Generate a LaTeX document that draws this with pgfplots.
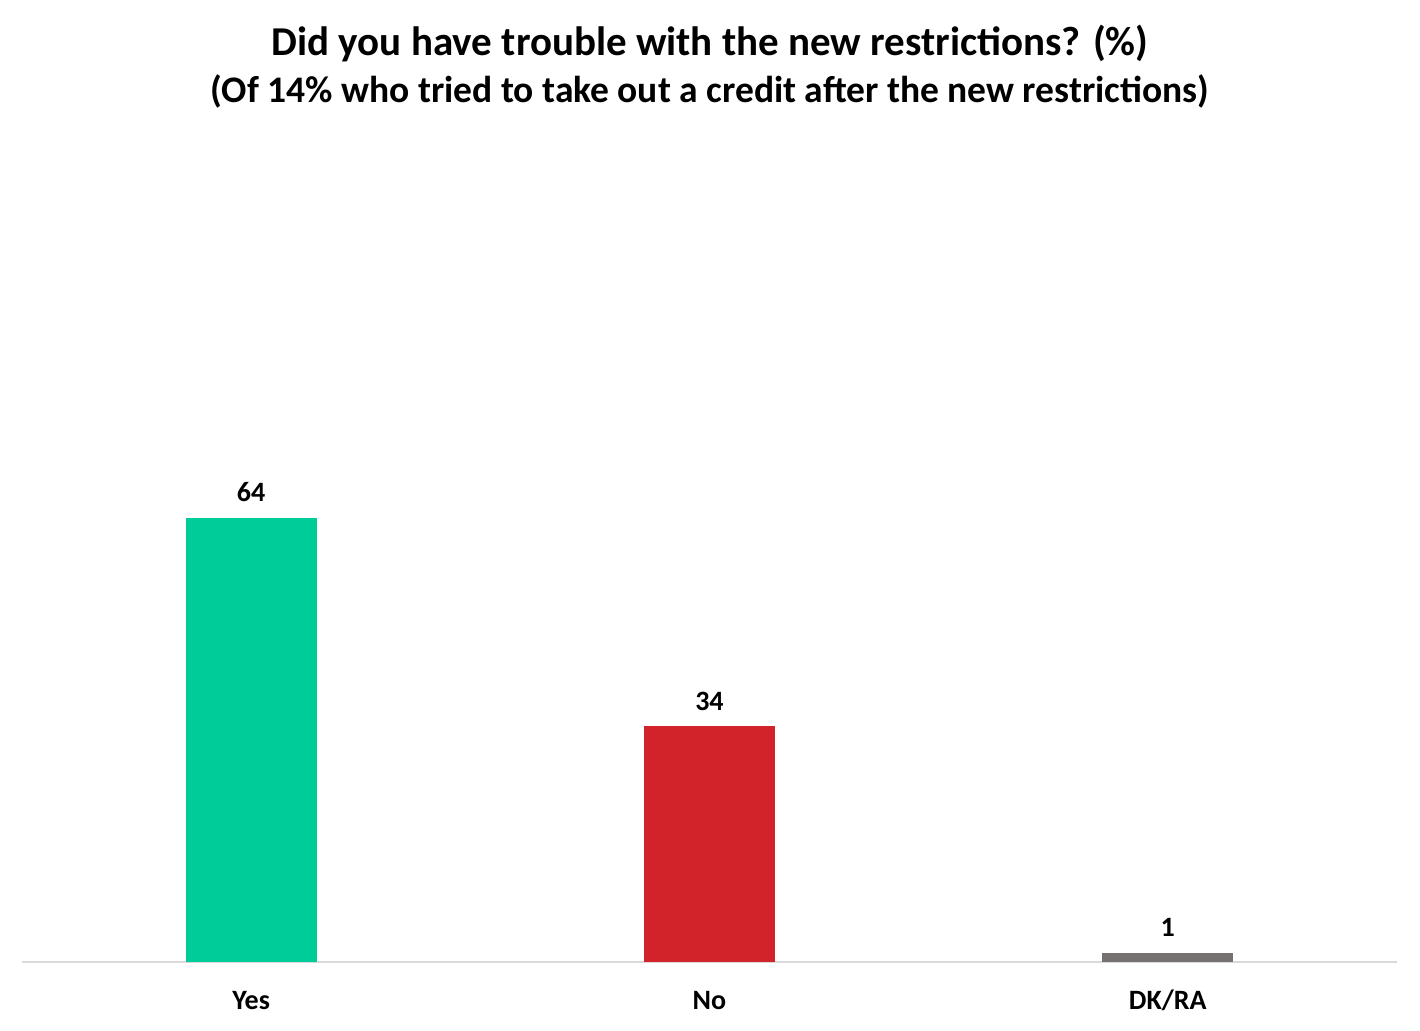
\documentclass[border=0pt]{standalone}
\usepackage{fontspec}
\setmainfont{Carlito}
\usepackage{pgfplots}
\pgfplotsset{compat=1.18}
\definecolor{cgreen}{HTML}{00CC99}
\definecolor{cred}{HTML}{D2232A}
\definecolor{cgrey}{HTML}{767171}
\definecolor{caxis}{HTML}{D9D9D9}
\begin{document}
\begin{tikzpicture}
\path[use as bounding box] (0,0) rectangle (1420bp,1031bp);
\node[anchor=base, font=\fontsize{41bp}{46bp}\selectfont\bfseries] at (710bp,975bp) {Did you have trouble with the new restrictions? (\%)};
\node[anchor=base, font=\fontsize{37.5bp}{42bp}\selectfont\bfseries] at (710bp,928bp) {(Of 14\% who tried to take out a credit after the new restrictions)};
\begin{axis}[
  at={(22bp,69bp)}, anchor=south west,
  scale only axis, width=1375bp, height=812bp,
  xmin=-0.5, xmax=2.5, ymin=0, ymax=117,
  hide y axis,
  axis x line*=bottom,
  x axis line style={draw=caxis, line width=1.5bp},
  xtick={0,1,2}, xticklabels={Yes,No,DK/RA},
  major tick length=0pt,
  xticklabel style={anchor=base, yshift=-47bp, font=\fontsize{28bp}{32bp}\selectfont\bfseries},
  point meta=explicit symbolic,
  nodes near coords,
  every node near coord/.append style={anchor=base, yshift=16bp, font=\fontsize{28bp}{32bp}\selectfont\bfseries, text=black},
  clip=false,
]
\addplot[ybar, bar width=131bp, bar shift=0pt, fill=cgreen, draw=none] coordinates {(0,64) [64]};
\addplot[ybar, bar width=131bp, bar shift=0pt, fill=cred, draw=none] coordinates {(1,34) [34]};
\addplot[ybar, bar width=131bp, bar shift=0pt, fill=cgrey, draw=none] coordinates {(2,1.3) [1]};
\end{axis}
\end{tikzpicture}
\end{document}
